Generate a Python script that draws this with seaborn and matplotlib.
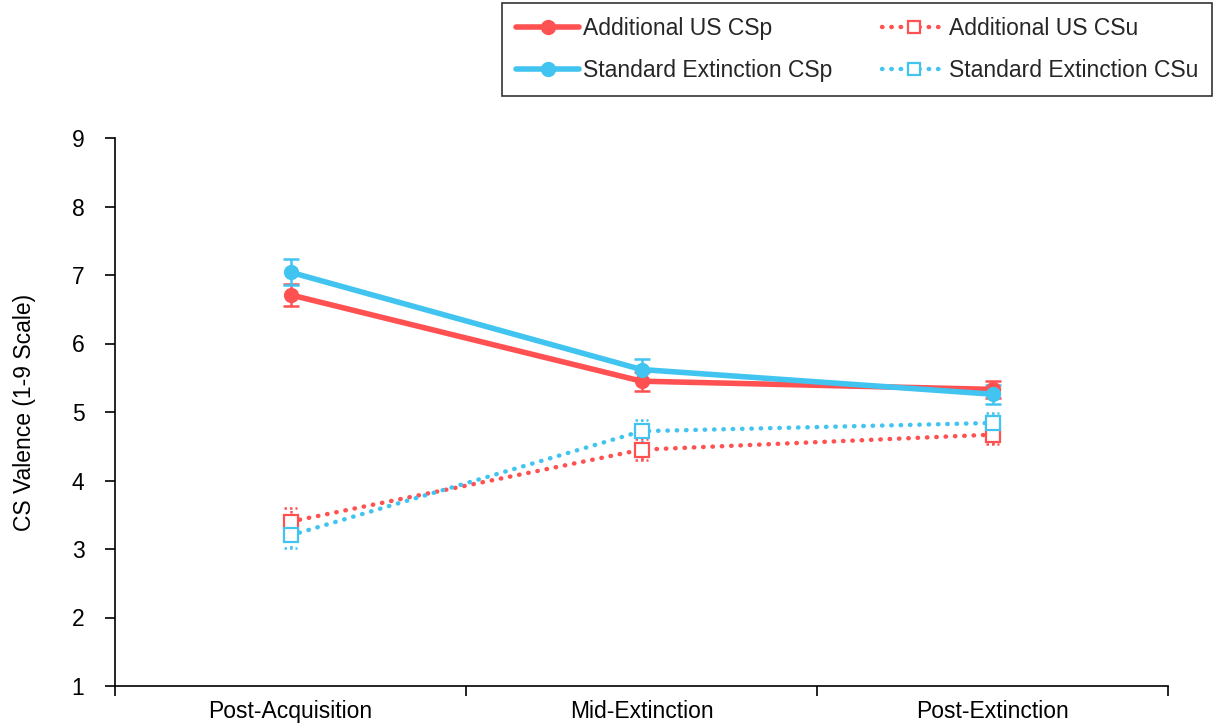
import numpy as np
import pandas as pd
import seaborn as sns
import matplotlib.pyplot as plt
from matplotlib.lines import Line2D
from matplotlib.ticker import FixedLocator, NullFormatter

# Rating phases
phases = ["Post-Acquisition", "Mid-Extinction", "Post-Extinction"]

# Mean CS valence ratings (1-9 scale) and standard errors
add_csp = [6.71, 5.45, 5.33]
add_csp_se = [0.16, 0.14, 0.12]
std_csp = [7.04, 5.62, 5.26]
std_csp_se = [0.19, 0.16, 0.14]
add_csu = [3.40, 4.45, 4.67]
add_csu_se = [0.20, 0.15, 0.14]
std_csu = [3.20, 4.72, 4.84]
std_csu_se = [0.19, 0.17, 0.15]

series_names = ["Additional US CSp", "Standard Extinction CSp",
                "Additional US CSu", "Standard Extinction CSu"]
series_means = [add_csp, std_csp, add_csu, std_csu]
series_se = [add_csp_se, std_csp_se, add_csu_se, std_csu_se]

RED = "#FF5151"
BLUE = "#42C4F0"
colors = [RED, BLUE, RED, BLUE]
is_csp = [True, True, False, False]

rows = []
for name, means, ses in zip(series_names, series_means, series_se):
    for i, (ph, m, s) in enumerate(zip(phases, means, ses)):
        rows.append({"series": name, "phase": ph, "x": i, "valence": m, "se": s})
df = pd.DataFrame(rows)

sns.set_theme(style="white")
plt.rcParams["font.family"] = ["Liberation Sans", "DejaVu Sans"]
FS = 16.5

fig = plt.figure(figsize=(12.14, 7.24), dpi=100)
ax = fig.add_axes([115 / 1214, 1 - 686 / 724, (1168 - 115) / 1214, (686 - 138) / 724])

DOT = (0, (0.1, 2.0))
handles = []
for name, col, solid in zip(series_names, colors, is_csp):
    sub = df[df["series"] == name]
    ls = "-" if solid else DOT
    lw = 4.0 if solid else 3.2
    sns.lineplot(data=sub, x="x", y="valence", ax=ax, color=col,
                 linewidth=lw, linestyle=ls, dash_capstyle="round",
                 marker="o" if solid else "s",
                 markersize=11 if solid else 10,
                 markerfacecolor=col if solid else "white",
                 markeredgecolor=col,
                 markeredgewidth=0 if solid else 1.6,
                 errorbar=None, legend=False, zorder=3)
    x = sub["x"].to_numpy(float)
    y = sub["valence"].to_numpy()
    e = sub["se"].to_numpy()
    if solid:
        ax.errorbar(x, y, yerr=e, fmt="none", ecolor=col, elinewidth=1.8,
                    capsize=6, capthick=1.8, zorder=2)
    else:
        cap_ls = (0, (1, 1.2))
        ax.vlines(x, y - e, y + e, colors=col, linewidth=1.8,
                  linestyles=[cap_ls], zorder=2)
        hw = 0.018
        ax.hlines(np.concatenate([y - e, y + e]),
                  np.concatenate([x - hw, x - hw]),
                  np.concatenate([x + hw, x + hw]),
                  colors=col, linewidth=1.8, linestyles=[cap_ls], zorder=2)
    handles.append(Line2D([], [], color=col, linewidth=lw, linestyle=ls,
                          dash_capstyle="round",
                          marker="o" if solid else "s",
                          markersize=11 if solid else 9,
                          markerfacecolor=col if solid else "white",
                          markeredgecolor=col,
                          markeredgewidth=0 if solid else 1.6))

ax.set_xlim(-0.5, 2.5)
ax.set_ylim(1, 9)
ax.set_yticks(range(1, 10))
ax.xaxis.set_major_locator(FixedLocator([-0.5, 0.5, 1.5, 2.5]))
ax.xaxis.set_major_formatter(NullFormatter())
ax.xaxis.set_minor_locator(FixedLocator([0, 1, 2]))
ax.set_xticklabels(phases, minor=True)
ax.tick_params(axis="x", which="major", direction="out", length=7, width=1.2,
               color="black", bottom=True)
ax.tick_params(axis="x", which="minor", length=0, labelsize=FS, pad=10,
               labelcolor="black", bottom=True)
ax.tick_params(axis="y", which="major", direction="out", length=7, width=1.2,
               color="black", labelsize=FS, pad=15, left=True,
               labelcolor="black")
ax.set_xlabel("")
ax.set_ylabel("CS Valence (1-9 Scale)", fontsize=FS, labelpad=26, color="black")

for side in ["top", "right"]:
    ax.spines[side].set_visible(False)
for side in ["left", "bottom"]:
    ax.spines[side].set_color("black")
    ax.spines[side].set_linewidth(1.2)
ax.grid(False)

leg = fig.legend(handles=handles, labels=series_names, ncol=2,
                 loc="upper right", bbox_to_anchor=(1212 / 1214, 1 - 3 / 724),
                 frameon=True, fancybox=False, edgecolor="black",
                 fontsize=FS, handlelength=2.75, handletextpad=0.15,
                 columnspacing=2.2, labelspacing=0.85, borderpad=0.6,
                 borderaxespad=0)
leg.get_frame().set_linewidth(1.2)

fig.savefig("out.png", dpi=100, facecolor="white")
